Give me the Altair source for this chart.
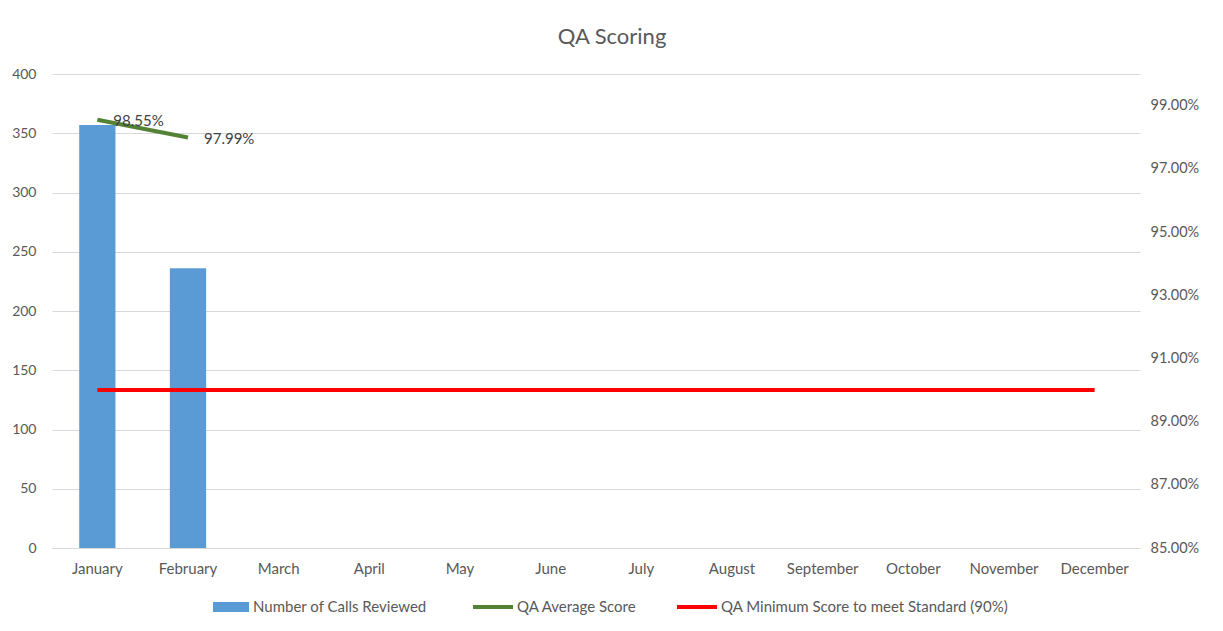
import altair as alt
import pandas as pd

months = ["January", "February", "March", "April", "May", "June", "July",
          "August", "September", "October", "November", "December"]
calls = [357, 236, None, None, None, None, None, None, None, None, None, None]
avg_score = [0.9855, 0.9799, None, None, None, None, None, None, None, None, None, None]
min_score = [0.90] * 12
series_names = ["Number of Calls Reviewed", "QA Average Score",
                "QA Minimum Score to meet Standard (90%)"]
series_colors = ["#5b9bd5", "#548235", "#ff0000"]
right_ticks = [0.85, 0.87, 0.89, 0.91, 0.93, 0.95, 0.97, 0.99]
left_ticks = [0, 50, 100, 150, 200, 250, 300, 350, 400]

FONT = "Lato"
GRAY = "#595959"

df_bar = pd.DataFrame({"month": months, "value": calls, "series": series_names[0]}).dropna()
df_avg = pd.DataFrame({"month": months, "value": avg_score, "series": series_names[1]}).dropna()
df_min = pd.DataFrame({"month": months, "value": min_score, "series": series_names[2]})

xenc = alt.X("month:N", sort=months,
             scale=alt.Scale(paddingInner=0.6, paddingOuter=0.3),
             axis=alt.Axis(title=None, labelAngle=0, ticks=False, domain=True,
                           domainColor="#d9d9d9", labelColor=GRAY, labelFontSize=15,
                           labelFont=FONT, labelPadding=13, grid=False))

fill_legend = alt.Legend(
    title=None, orient="none", direction="horizontal", legendX=161, legendY=515,
    labelFont=FONT, labelFontSize=15, labelColor=GRAY, labelOffset=4, labelLimit=500,
    symbolSize=1296, symbolType="M-1,-0.28H1V0.28H-1Z", symbolStrokeWidth=0,
    symbolOpacity=1,
)
stroke_legend = alt.Legend(
    title=None, orient="none", direction="horizontal", legendX=419, legendY=511,
    labelFont=FONT, labelFontSize=15, labelColor=GRAY, labelOffset=2, labelLimit=500,
    columnPadding=32, symbolSize=1600, symbolType="stroke", symbolStrokeWidth=4,
    symbolOpacity=1,
)

bars = alt.Chart(df_bar).mark_bar().encode(
    x=xenc,
    y=alt.Y("value:Q", scale=alt.Scale(domain=[0, 400], nice=False),
            axis=alt.Axis(title=None, values=left_ticks, ticks=False,
                          domain=False, grid=True, gridColor="#d9d9d9", labelColor=GRAY,
                          labelFontSize=14, labelFont=FONT, labelPadding=16)),
    fill=alt.Fill("series:N", scale=alt.Scale(domain=series_names[:1], range=series_colors[:1]),
                  legend=fill_legend),
)

yright = alt.Y("value:Q", scale=alt.Scale(domain=[0.85, 1.0], nice=False, zero=False),
               axis=alt.Axis(title=None, orient="right", format=".2%", values=right_ticks,
                             ticks=False, domain=False, grid=False, labelColor=GRAY,
                             labelFontSize=14.5, labelFont=FONT, labelPadding=10))
stroke_scale = alt.Scale(domain=series_names[1:], range=series_colors[1:])

avg_line = alt.Chart(df_avg).mark_line(strokeWidth=4).encode(
    x=alt.X("month:N", sort=months),
    y=yright,
    stroke=alt.Stroke("series:N", scale=stroke_scale, legend=stroke_legend),
)

min_line = alt.Chart(df_min).mark_line(strokeWidth=4).encode(
    x=alt.X("month:N", sort=months),
    y=yright,
    stroke=alt.Stroke("series:N", scale=stroke_scale, legend=stroke_legend),
)

labels = alt.Chart(df_avg).mark_text(align="left", baseline="middle", dx=16, dy=1,
                                     fontSize=15, font=FONT, color="#404040").encode(
    x=alt.X("month:N", sort=months),
    y=yright,
    text=alt.Text("value:Q", format=".2%"),
)

right = alt.layer(avg_line, min_line, labels)

chart = alt.layer(bars, right).resolve_scale(y="independent").properties(
    width=1088, height=474, background="white",
    title=alt.TitleParams("QA Scoring", fontSize=22, font=FONT, color=GRAY,
                          fontWeight="normal", offset=18, dx=16),
    autosize=alt.AutoSizeParams(type="none"),
    padding={"left": 44, "top": 66, "right": 75, "bottom": 75},
).configure_view(strokeWidth=0, stroke="transparent").configure_axisY(
    domain=False, ticks=False
)

chart.save("out.html", embed_options={"renderer": "svg", "actions": False})
